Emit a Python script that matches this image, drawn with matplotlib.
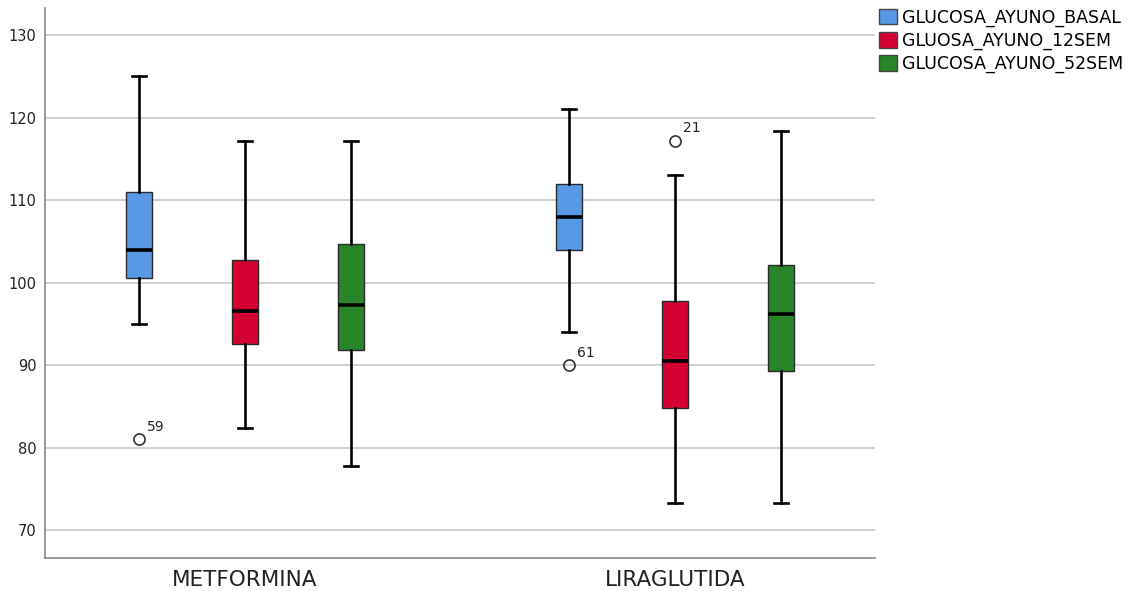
import matplotlib.pyplot as plt
from matplotlib.patches import Patch

groups = ['METFORMINA', 'LIRAGLUTIDA']
series = ['GLUCOSA_AYUNO_BASAL', 'GLUOSA_AYUNO_12SEM', 'GLUCOSA_AYUNO_52SEM']
colors = ['#5899e6', '#d50032', '#298529']

# box stats per group, per series: (whislo, q1, med, q3, whishi)
met_stats = [(95.0, 100.6, 104.0, 111.0, 125.0),
             (82.4, 92.6, 96.6, 102.7, 117.2),
             (77.8, 91.8, 97.3, 104.7, 117.2)]
lir_stats = [(94.0, 104.0, 108.0, 112.0, 121.0),
             (73.3, 84.8, 90.5, 97.8, 113.1),
             (73.3, 89.3, 96.2, 102.1, 118.4)]
# outliers: (group index, series index, value, case label)
outliers = [(0, 0, 81.0, '59'),
            (1, 0, 90.0, '61'),
            (1, 1, 117.2, '21')]

fig = plt.figure(figsize=(11.28, 5.91), dpi=100)
ax = fig.add_axes([45/1128, 33/591, 830/1128, 550/591])

offset = 0.2465
width = 0.06
for gi, stats in enumerate([met_stats, lir_stats]):
    for si, s in enumerate(stats):
        fl = [o[2] for o in outliers if o[0] == gi and o[1] == si]
        st = dict(whislo=s[0], q1=s[1], med=s[2], q3=s[3], whishi=s[4], fliers=fl)
        pos = gi + (si - 1) * offset
        ax.bxp([st], positions=[pos], widths=width, patch_artist=True,
               showfliers=True, manage_ticks=False,
               boxprops=dict(facecolor=colors[si], edgecolor='#2a2a2a', linewidth=1),
               medianprops=dict(color='black', linewidth=2.6),
               whiskerprops=dict(color='black', linewidth=1.9),
               capprops=dict(color='black', linewidth=1.9),
               capwidths=width * 0.55,
               flierprops=dict(marker='o', markerfacecolor='none',
                               markeredgecolor='#333333', markersize=8, markeredgewidth=1.2))

for gi, si, v, lab in outliers:
    pos = gi + (si - 1) * offset
    ax.annotate(lab, (pos, v), xytext=(6, 6), textcoords='offset points',
                fontsize=10, color='#222222')

ax.set_xlim(-0.465, 1.465)
ax.set_ylim(66.6, 133.3)
ax.set_yticks([70, 80, 90, 100, 110, 120, 130])
ax.set_xticks([0, 1])
ax.set_xticklabels(groups, fontsize=15.5)
ax.tick_params(axis='both', length=0, colors='#222222')
ax.tick_params(axis='y', labelsize=10.5, pad=6)
ax.tick_params(axis='x', pad=9)
ax.yaxis.grid(True, color='#c8c8c8', linewidth=1.2)
ax.set_axisbelow(True)
for sp in ['top', 'right']:
    ax.spines[sp].set_visible(False)
for sp in ['left', 'bottom']:
    ax.spines[sp].set_color('#888888')
    ax.spines[sp].set_linewidth(1.2)

handles = [Patch(facecolor=c, edgecolor='#444444', label=l) for c, l in zip(colors, series)]
fig.legend(handles=handles, loc='upper left', bbox_to_anchor=(869/1128, 1.003),
           frameon=False, fontsize=12.5, handlelength=1.0, handleheight=1.0,
           handletextpad=0.3, labelspacing=0.28, borderaxespad=0.2)

fig.savefig('out.png', dpi=100)
